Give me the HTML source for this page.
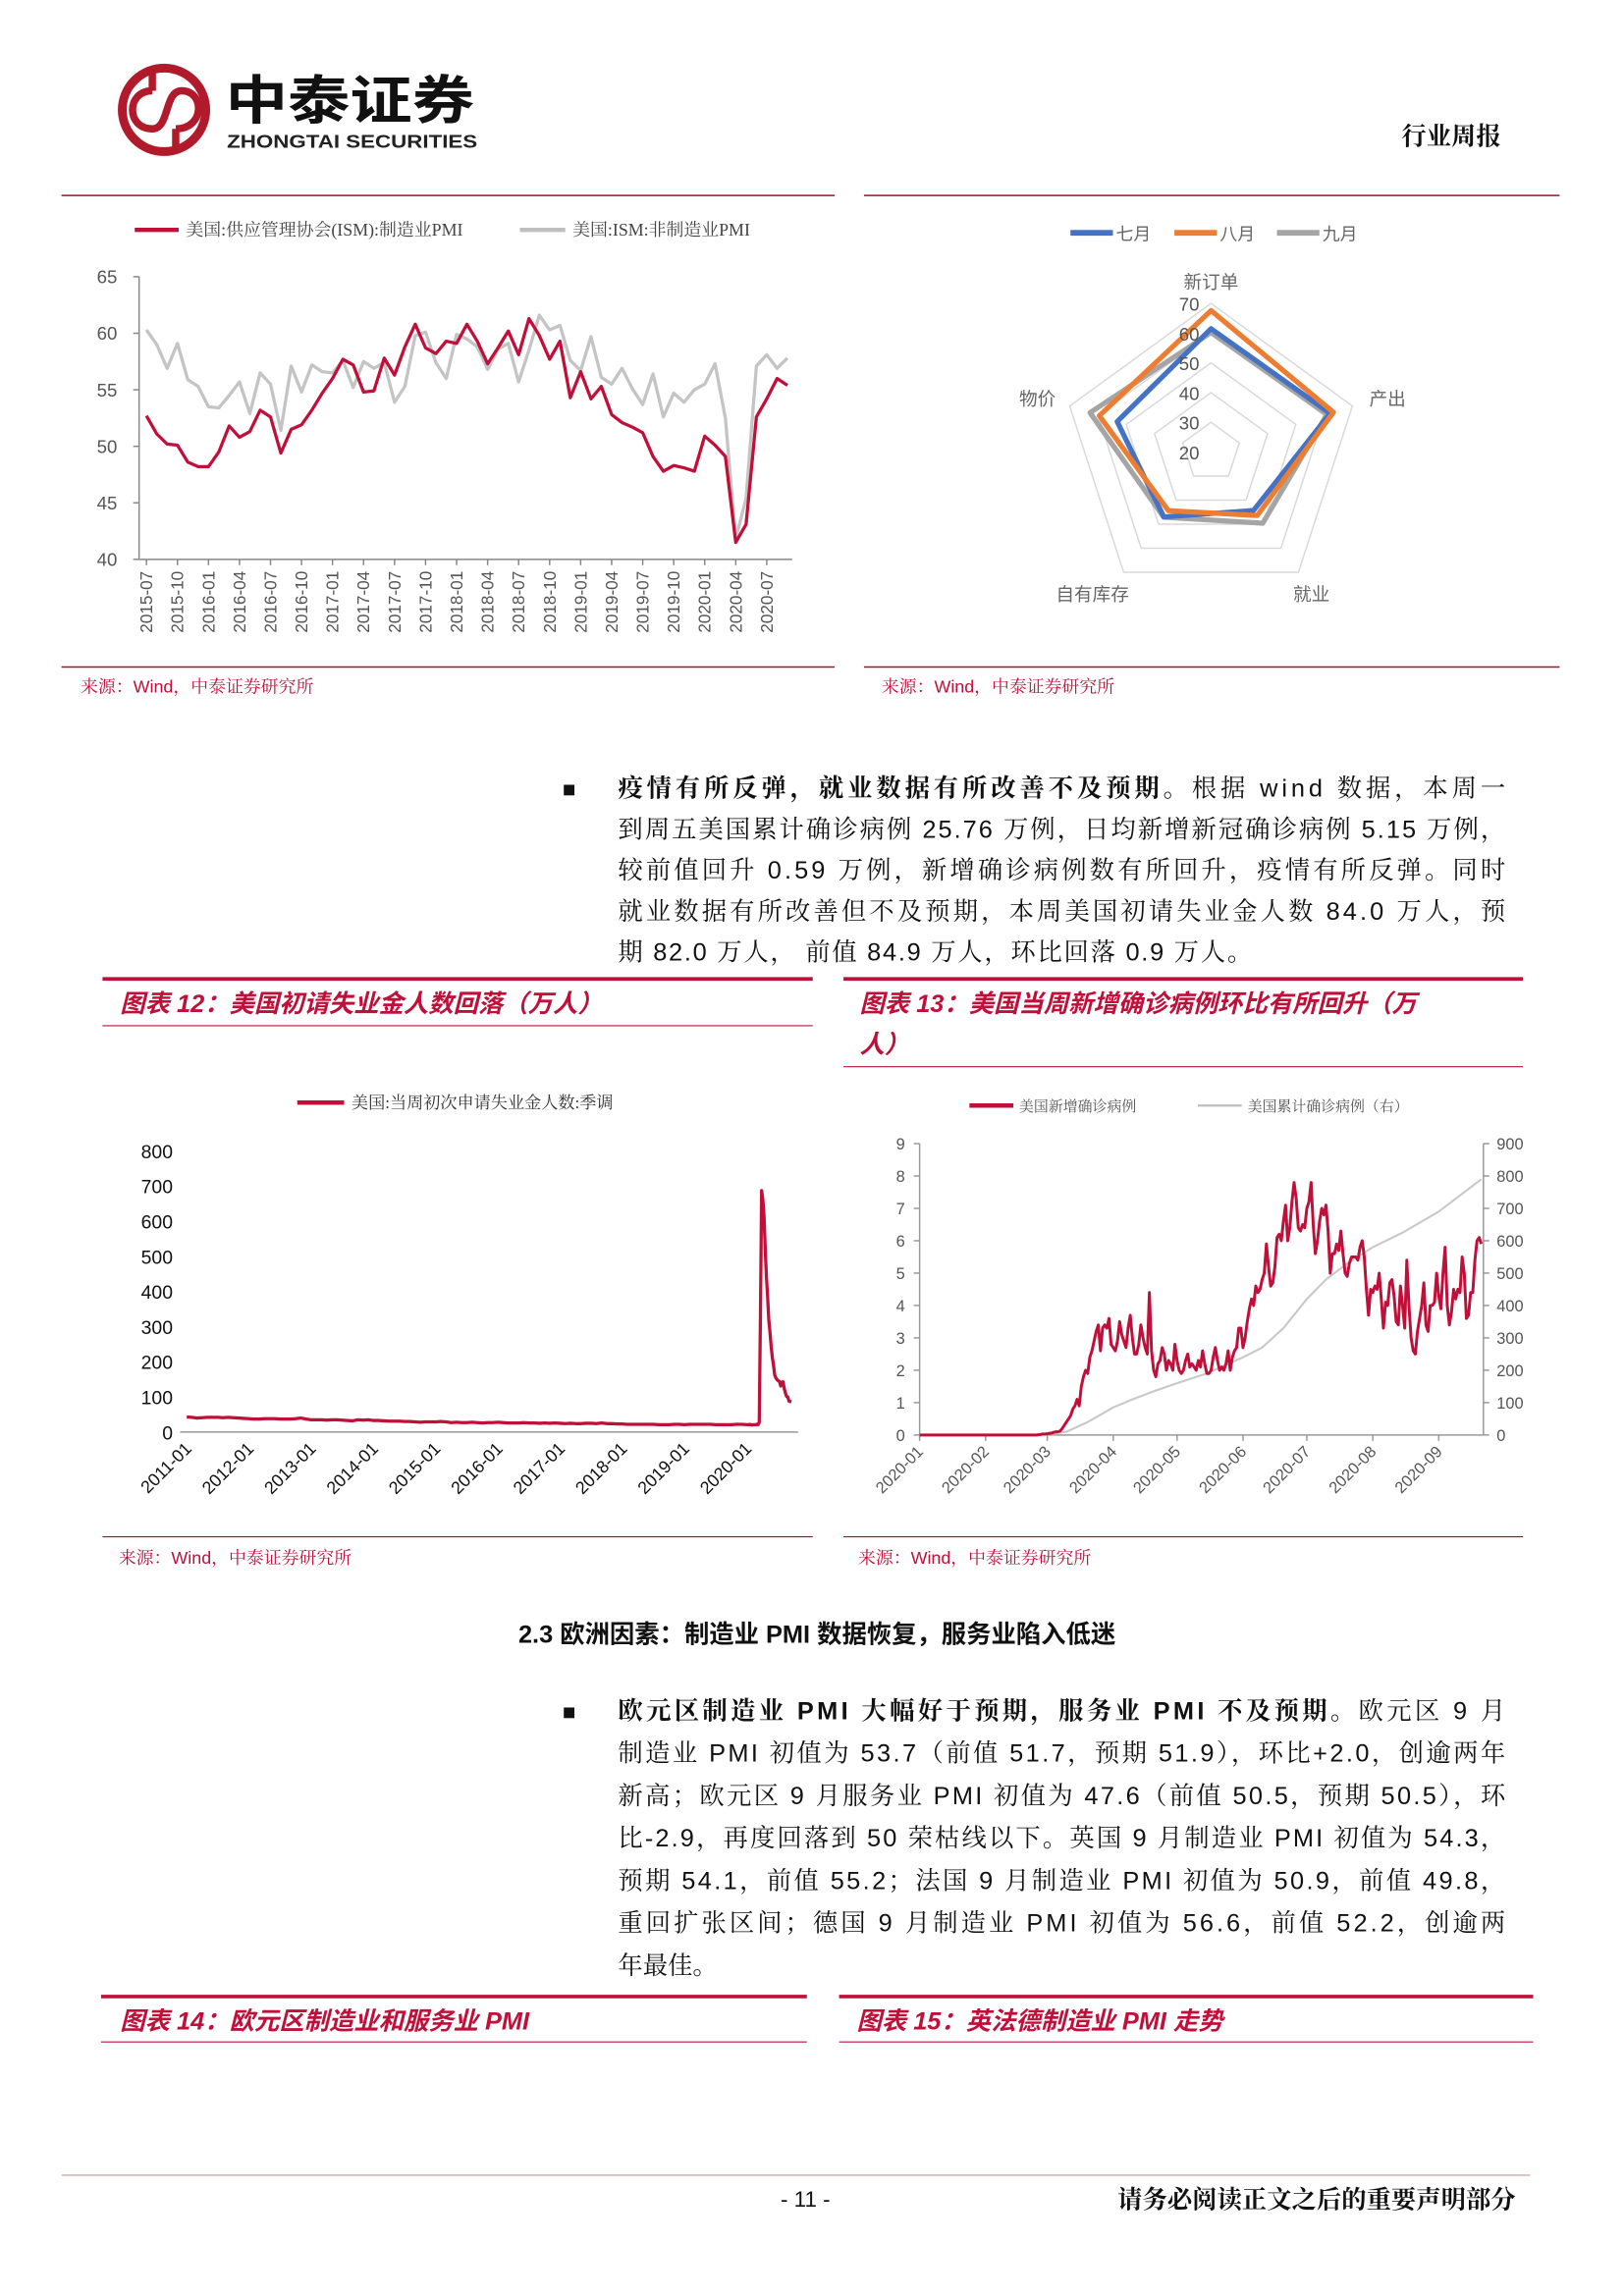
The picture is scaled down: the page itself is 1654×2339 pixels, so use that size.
<!DOCTYPE html>
<html><head><meta charset="utf-8">
<style>
html,body{margin:0;padding:0;background:#fff;}
svg{display:block;}
.sans{font-family:"Liberation Sans","Noto Sans CJK SC",sans-serif;}
.serif{font-family:"Liberation Serif","Noto Serif CJK SC",serif;}
.body{font-family:"Liberation Sans","Noto Serif CJK SC",serif;font-size:17px;fill:#111;}
.ftitle{font-family:"Liberation Sans","Noto Sans CJK SC",sans-serif;font-size:17px;font-weight:bold;font-style:italic;fill:#c0103a;}
.src{font-family:"Liberation Sans","Noto Serif CJK SC",serif;font-size:12px;fill:#c0103a;}
</style></head>
<body>
<svg id="page" width="1654" height="2339" viewBox="0 0 1109 1568" preserveAspectRatio="none" xmlns="http://www.w3.org/2000/svg">
<!-- header -->
<g>
  <circle cx="112" cy="75" r="28.5" fill="none" stroke="#b01a2a" stroke-width="6"/>
  <path d="M104 48 L104 62 M120 88 L120 102 M104 62 C86 62 86 88 104 88 C116 88 112 62 124 62 C140 62 140 88 120 88" fill="none" stroke="#b01a2a" stroke-width="5"/>
  <text x="154" y="81" class="sans" font-size="36" font-weight="bold" fill="#111" textLength="170" lengthAdjust="spacingAndGlyphs">中泰证券</text>
  <text x="155" y="101" class="sans" font-size="12.5" font-weight="bold" fill="#222" textLength="171" lengthAdjust="spacingAndGlyphs">ZHONGTAI SECURITIES</text>
</g>
<text x="1025" y="99" text-anchor="end" class="serif" font-size="17" font-weight="bold" fill="#111">行业周报</text>
<line x1="42" y1="133.5" x2="570" y2="133.5" stroke="#a0102a" stroke-width="1"/>
<line x1="590" y1="133.5" x2="1065" y2="133.5" stroke="#a0102a" stroke-width="1"/>

<!-- chart 1 -->
<g id="c1">
  <line x1="92" y1="157" x2="122" y2="157" stroke="#c0103a" stroke-width="3"/>
  <text x="127" y="161" class="serif" font-size="12" fill="#444">美国:供应管理协会(ISM):制造业PMI</text>
  <line x1="355" y1="157" x2="386" y2="157" stroke="#bfbfbf" stroke-width="3"/>
  <text x="391" y="161" class="serif" font-size="12" fill="#444">美国:ISM:非制造业PMI</text>
</g>
<line x1="42" y1="455.5" x2="570" y2="455.5" stroke="#a0102a" stroke-width="1"/>
<text x="55" y="473" class="src">来源：Wind，中泰证券研究所</text>

<!-- chart 2 radar -->
<g id="c2">
  <line x1="731" y1="159" x2="760" y2="159" stroke="#4472c4" stroke-width="4"/>
  <text x="762" y="164" class="sans" font-size="12" fill="#666">七月</text>
  <line x1="802" y1="159" x2="831" y2="159" stroke="#ed7d31" stroke-width="4"/>
  <text x="833" y="164" class="sans" font-size="12" fill="#666">八月</text>
  <line x1="872" y1="159" x2="901" y2="159" stroke="#a5a5a5" stroke-width="4"/>
  <text x="903" y="164" class="sans" font-size="12" fill="#666">九月</text>
</g>
<line x1="590" y1="455.5" x2="1065" y2="455.5" stroke="#a0102a" stroke-width="1"/>
<text x="602" y="473" class="src">来源：Wind，中泰证券研究所</text>

<!-- bullet 1 -->
<g>
<text x="384" y="544" class="sans" font-size="15" fill="#111">■</text>
<text x="422" y="544" class="body" textLength="606" lengthAdjust="spacing"><tspan font-weight="bold">疫情有所反弹，就业数据有所改善不及预期</tspan>。根据 wind 数据，本周一</text>
<text x="422" y="572" class="body" textLength="606" lengthAdjust="spacing">到周五美国累计确诊病例 25.76 万例，日均新增新冠确诊病例 5.15 万例，</text>
<text x="422" y="600" class="body" textLength="606" lengthAdjust="spacing">较前值回升 0.59 万例，新增确诊病例数有所回升，疫情有所反弹。同时</text>
<text x="422" y="628" class="body" textLength="606" lengthAdjust="spacing">就业数据有所改善但不及预期，本周美国初请失业金人数 84.0 万人，预</text>
<text x="422" y="656" class="body" textLength="433" lengthAdjust="spacing">期 82.0 万人， 前值 84.9 万人，环比回落 0.9 万人。</text>
</g>

<!-- figure titles 12/13 -->
<line x1="70" y1="668.5" x2="555" y2="668.5" stroke="#c0103a" stroke-width="2.5"/>
<text x="82" y="691" class="ftitle">图表 12：美国初请失业金人数回落（万人）</text>
<line x1="70" y1="700.5" x2="555" y2="700.5" stroke="#c0103a" stroke-width="0.8"/>
<line x1="576" y1="668.5" x2="1040" y2="668.5" stroke="#c0103a" stroke-width="2.5"/>
<text x="587" y="691" class="ftitle">图表 13：美国当周新增确诊病例环比有所回升（万</text>
<text x="587" y="719" class="ftitle">人）</text>
<line x1="576" y1="728.5" x2="1040" y2="728.5" stroke="#c0103a" stroke-width="0.8"/>

<g id="c3">
  <line x1="203" y1="753" x2="235" y2="753" stroke="#c0103a" stroke-width="3"/>
  <text x="240" y="757" class="serif" font-size="11.5" fill="#333">美国:当周初次申请失业金人数:季调</text>
</g>
<g id="c4">
  <line x1="662" y1="755" x2="692" y2="755" stroke="#c0103a" stroke-width="3"/>
  <text x="696" y="759" class="serif" font-size="10" fill="#555">美国新增确诊病例</text>
  <line x1="818" y1="755" x2="848" y2="755" stroke="#bfbfbf" stroke-width="1.5"/>
  <text x="852" y="759" class="serif" font-size="10" fill="#555">美国累计确诊病例（右）</text>
</g>
<line x1="70" y1="1049.5" x2="555" y2="1049.5" stroke="#a0102a" stroke-width="0.8"/>
<text x="81" y="1068" class="src">来源：Wind，中泰证券研究所</text>
<line x1="576" y1="1049.5" x2="1040" y2="1049.5" stroke="#a0102a" stroke-width="0.8"/>
<text x="586" y="1068" class="src">来源：Wind，中泰证券研究所</text>

<text x="354" y="1122" class="sans" font-size="17" font-weight="bold" fill="#111">2.3 欧洲因素：制造业 PMI 数据恢复，服务业陷入低迷</text>

<g>
<text x="384" y="1174" class="sans" font-size="15" fill="#111">■</text>
<text x="422" y="1174" class="body" textLength="606" lengthAdjust="spacing"><tspan font-weight="bold">欧元区制造业 PMI 大幅好于预期，服务业 PMI 不及预期</tspan>。欧元区 9 月</text>
<text x="422" y="1203" class="body" textLength="606" lengthAdjust="spacing">制造业 PMI 初值为 53.7（前值 51.7，预期 51.9），环比+2.0，创逾两年</text>
<text x="422" y="1232" class="body" textLength="606" lengthAdjust="spacing">新高；欧元区 9 月服务业 PMI 初值为 47.6（前值 50.5，预期 50.5），环</text>
<text x="422" y="1261" class="body" textLength="606" lengthAdjust="spacing">比-2.9，再度回落到 50 荣枯线以下。英国 9 月制造业 PMI 初值为 54.3，</text>
<text x="422" y="1290" class="body" textLength="606" lengthAdjust="spacing">预期 54.1，前值 55.2；法国 9 月制造业 PMI 初值为 50.9，前值 49.8，</text>
<text x="422" y="1319" class="body" textLength="606" lengthAdjust="spacing">重回扩张区间；德国 9 月制造业 PMI 初值为 56.6，前值 52.2，创逾两</text>
<text x="422" y="1348" class="body">年最佳。</text>
</g>

<line x1="69" y1="1363.5" x2="551" y2="1363.5" stroke="#c0103a" stroke-width="2.5"/>
<text x="82" y="1386" class="ftitle">图表 14：欧元区制造业和服务业 PMI</text>
<line x1="69" y1="1394.5" x2="551" y2="1394.5" stroke="#c0103a" stroke-width="0.8"/>
<line x1="573" y1="1363.5" x2="1047" y2="1363.5" stroke="#c0103a" stroke-width="2.5"/>
<text x="585" y="1386" class="ftitle">图表 15：英法德制造业 PMI 走势</text>
<line x1="573" y1="1394.5" x2="1047" y2="1394.5" stroke="#c0103a" stroke-width="0.8"/>

<line x1="42" y1="1485.5" x2="1045" y2="1485.5" stroke="#d8a8a0" stroke-width="1"/>
<text x="550" y="1507" text-anchor="middle" class="sans" font-size="15" fill="#111">- 11 -</text>
<text x="1035" y="1508" text-anchor="end" class="serif" font-size="17" font-weight="bold" fill="#111">请务必阅读正文之后的重要声明部分</text>
</svg>

<script>
// ===== chart 1 data =====
const pmiStart = "2015-07";
const pmiTickLabels = ["2015-07","2015-10","2016-01","2016-04","2016-07","2016-10","2017-01","2017-04","2017-07","2017-10","2018-01","2018-04","2018-07","2018-10","2019-01","2019-04","2019-07","2019-10","2020-01","2020-04","2020-07"];
const pmiYTicks = [40,45,50,55,60,65];
const pmiManufacturing = [52.7,51.1,50.2,50.1,48.6,48.2,
 48.2,49.5,51.8,50.8,51.3,53.2,52.6,49.4,51.5,51.9,53.2,54.7,
 56.0,57.7,57.2,54.8,54.9,57.8,56.3,58.8,60.8,58.7,58.2,59.3,
 59.1,60.8,59.3,57.3,58.7,60.2,58.1,61.3,59.8,57.7,59.3,54.3,
 56.6,54.2,55.3,52.8,52.1,51.7,51.2,49.1,47.8,48.3,48.1,47.8,
 50.9,50.1,49.1,41.5,43.1,52.6,54.2,56.0,55.4];
const pmiNonManufacturing = [60.3,59.0,56.9,59.1,55.9,55.3,
 53.5,53.4,54.5,55.7,52.9,56.5,55.5,51.4,57.1,54.8,57.2,56.6,
 56.5,57.6,55.2,57.5,56.9,57.4,53.9,55.3,59.8,60.1,57.4,56.0,
 59.9,59.5,58.8,56.8,58.6,59.1,55.7,58.5,61.6,60.3,60.7,57.6,
 56.7,59.7,56.1,55.5,56.9,55.1,53.7,56.4,52.6,54.7,53.9,55.0,
 55.5,57.3,52.5,41.8,45.4,57.1,58.1,56.9,57.8];

// ===== chart 2 data =====
const radarCategories = ["新订单","产出","就业","自有库存","物价"];
const radarJuly = [61.5,62.1,44.3,47.0,53.2];
const radarAugust = [67.6,63.3,46.4,44.4,59.5];
const radarSeptember = [60.2,61.0,49.6,47.1,62.8];
const radarTicks = [20,30,40,50,60,70];

// ===== chart 3 data =====
const claimsMonthlyStart = "2011-01";
const claimsMonthly = [
 43,42,40,41,42,42,42,41,42,41,40,39,
 38,37,37,38,38,38,37,37,37,38,40,37,
 35,35,35,34,35,35,34,33,32,35,34,35,
 33,33,32,31,31,31,30,30,29,28,29,29,
 29,30,29,27,28,27,27,28,27,26,27,27,
 28,27,26,26,26,27,26,26,25,26,25,26,
 25,24,25,24,24,25,25,24,26,24,24,23,
 23,22,22,22,22,22,22,21,21,21,22,22,
 21,22,22,22,22,22,21,21,21,21,22,22];
const claims2020Dates = ["2020-01-04","2020-01-11","2020-01-18","2020-01-25","2020-02-01","2020-02-08","2020-02-15","2020-02-22","2020-02-29","2020-03-07","2020-03-14","2020-03-21","2020-03-28","2020-04-04","2020-04-11","2020-04-18","2020-04-25","2020-05-02","2020-05-09","2020-05-16","2020-05-23","2020-05-30","2020-06-06","2020-06-13","2020-06-20","2020-06-27","2020-07-04","2020-07-11","2020-07-18","2020-07-25","2020-08-01","2020-08-08","2020-08-15","2020-08-22","2020-08-29","2020-09-05","2020-09-12","2020-09-19"];
const claims2020 = [21,21,22,21,20,21,21,21,22,21,28,331,687,662,616,524,444,387,320,285,244,212,190,162,154,149,146,144,131,142,143,124,111,101,100,88,87,86];
const claimsYTicks = [0,100,200,300,400,500,600,700,800];
const claimsXTicks = ["2011-01","2012-01","2013-01","2014-01","2015-01","2016-01","2017-01","2018-01","2019-01","2020-01"];

// ===== chart 4 data =====
const covidStart = "2020-01-01";
const covidDaily = [
 0,0,0,0,0,0,0,0,0,0,0,0,0,0,0,0,0,0,0,0,0,0,0,0,0,0,0,0,0,0,0,
 0,0,0,0,0,0,0,0,0,0,0,0,0,0,0,0,0,0,0,0,0,0,0,0,0,0.01,0.02,0.03,
 0.03,0.04,0.05,0.06,0.08,0.1,0.1,0.12,0.2,0.3,0.4,0.5,0.6,0.8,0.9,1.1,0.9,1.5,1.8,2.0,1.9,2.4,2.6,2.9,3.2,3.4,2.6,3.3,3.4,3.3,3.6,
 2.8,2.7,2.6,2.9,3.5,3.1,2.9,2.7,3.3,3.7,3.0,2.5,2.5,2.8,3.4,3.0,2.7,2.5,4.4,2.6,2.0,1.8,2.2,2.3,2.7,2.5,2.0,2.3,2.2,2.0,
 2.8,2.3,2.0,1.9,2.0,2.3,2.5,2.1,2.2,2.1,2.0,2.3,2.1,2.6,2.2,1.9,1.9,2.0,2.4,2.7,2.3,2.0,2.1,2.0,2.2,2.6,2.0,2.4,2.6,2.7,3.3,
 3.3,2.7,3.0,3.5,3.9,4.2,4.0,4.6,4.4,4.5,4.8,5.0,5.9,5.2,4.6,4.7,5.2,6.1,6.2,6.0,6.6,7.1,6.0,6.4,7.2,7.8,7.3,6.4,6.3,6.5,
 6.4,7.0,7.2,7.8,6.5,5.6,6.0,6.6,7.0,6.8,7.1,6.3,5.0,5.6,5.6,5.9,5.7,6.3,5.6,5.0,4.9,5.3,5.5,5.5,5.5,5.4,5.8,6.0,5.5,4.5,3.7,
 4.5,4.4,4.6,4.5,5.0,4.2,3.3,4.1,4.0,4.7,4.8,4.3,3.5,3.4,4.6,4.0,3.3,5.4,4.0,3.0,2.6,2.5,3.2,3.6,4.0,4.7,3.4,3.2,4.0,4.0,4.1,
 5.0,4.3,3.9,5.0,5.8,4.0,3.4,3.8,4.5,4.2,4.5,4.4,5.5,5.0,3.6,3.7,4.4,4.4,5.4,6.0,6.1,5.9];
const covidCumDates = ["2020-01-01","2020-02-20","2020-03-01","2020-03-10","2020-03-20","2020-04-01","2020-04-10","2020-04-20","2020-05-01","2020-05-15","2020-06-01","2020-06-10","2020-06-20","2020-07-01","2020-07-10","2020-07-20","2020-08-01","2020-08-15","2020-09-01","2020-09-10","2020-09-21"];
const covidCumulative = [0,0,2,10,40,85,110,135,160,190,240,270,330,420,480,530,580,625,690,735,790];
const covidLeftTicks = [0,1,2,3,4,5,6,7,8,9];
const covidRightTicks = [0,100,200,300,400,500,600,700,800,900];
const covidMonthTicks = ["2020-01","2020-02","2020-03","2020-04","2020-05","2020-06","2020-07","2020-08","2020-09"];

const NS = "http://www.w3.org/2000/svg";
function mk(parent, tag, attrs, txt){
  const e = document.createElementNS(NS, tag);
  for (const k in attrs) e.setAttribute(k, attrs[k]);
  if (txt !== undefined) e.textContent = txt;
  parent.appendChild(e);
  return e;
}
function monthIndex(s){ const [y,m]=s.split("-").map(Number); return y*12+(m-1); }
function dayOfYear(s){ const d=new Date(s+"T00:00:00Z"); return (d - Date.UTC(2020,0,1))/86400000; }
function yearFrac(s){ const d=new Date(s+"T00:00:00Z"); const y=d.getUTCFullYear(); return y + (d-Date.UTC(y,0,1))/(Date.UTC(y+1,0,1)-Date.UTC(y,0,1)); }

// ----- chart 1 -----
(function(){
  const g = document.getElementById("c1");
  const X0=100, DX=7.06, YT=189, YB=382, vmin=40, vmax=65;
  const x = i => X0 + i*DX;
  const y = v => YB - (v-vmin)/(vmax-vmin)*(YB-YT);
  const s0 = monthIndex(pmiStart);
  let e = mk(g,"line",{x1:95,y1:YT,x2:95,y2:YB,stroke:"#888","stroke-width":1});
  
  
  e = mk(g,"line",{x1:95,y1:YB,x2:541,y2:YB,stroke:"#888","stroke-width":1});
  
  
  pmiYTicks.forEach(v=>{
    let t = mk(g,"line",{x1:91,y1:y(v),x2:95,y2:y(v),stroke:"#888"});
    
    
    let l = mk(g,"text",{x:80,y:y(v)+4.5,"text-anchor":"end","font-size":12.5,fill:"#555",class:"sans"},String(v));
    
    
  });
  pmiTickLabels.forEach(s=>{
    const xi = x(monthIndex(s)-s0);
    let t = mk(g,"line",{x1:xi,y1:YB,x2:xi,y2:YB+4,stroke:"#888"});
    
    
    let l = mk(g,"text",{x:xi+4,y:YB+8,"text-anchor":"end","font-size":11.5,fill:"#555",class:"sans",transform:`rotate(-90 ${xi+4} ${YB+8})`},s);
    
    
  });
  const p2 = mk(g,"polyline",{points:pmiNonManufacturing.map((v,i)=>x(i)+","+y(v)).join(" "),fill:"none",stroke:"#c4c4c4","stroke-width":2.2,"stroke-linejoin":"round"});
  
  
  const p1 = mk(g,"polyline",{points:pmiManufacturing.map((v,i)=>x(i)+","+y(v)).join(" "),fill:"none",stroke:"#c0103a","stroke-width":2.2,"stroke-linejoin":"round"});
  
  
})();

// ----- chart 2 radar -----
(function(){
  const g = document.getElementById("c2");
  const CX=827, CY=308.7, R=101.5, vmin=20, vmax=70;
  const pt = (i,v) => { const a=-Math.PI/2 + i*2*Math.PI/5; const r=(v-vmin)/(vmax-vmin)*R; return [CX+r*Math.cos(a), CY+r*Math.sin(a)]; };
  radarTicks.forEach(v=>{
    if (v>vmin){
      const ring = mk(g,"polygon",{points:radarCategories.map((c,i)=>pt(i,v).join(",")).join(" "),fill:"none",stroke:"#d9d9d9","stroke-width":1});
      
      
    }
  });
  radarCategories.forEach((c,i)=>{
    const p = pt(i, vmax+7);
    const anchor = i===0?"middle":(i===1||i===2?"start":"end");
    const off = i===1?[-2,4]:(i===4?[4,4]:(i===0?[0,4]:[ (i===2?-12:12), 8]));
    let l = mk(g,"text",{x:p[0]+off[0],y:p[1]+off[1],"text-anchor":anchor,"font-size":12.5,fill:"#666",class:"sans"},c);
    
    
  });
  [[radarSeptember,"#a5a5a5","september"],[radarJuly,"#4472c4","july"],[radarAugust,"#ed7d31","august"]].forEach(s=>{
    const poly = mk(g,"polygon",{points:s[0].map((v,i)=>pt(i,v).join(",")).join(" "),fill:"none",stroke:s[1],"stroke-width":3.5,"stroke-linejoin":"round"});
    
    
  });
  radarTicks.forEach(v=>{
    const p = pt(0,v);
    let l = mk(g,"text",{x:CX-8,y:p[1]+5,"text-anchor":"end","font-size":12.5,fill:"#555",class:"sans"},String(v));
    
    
  });
})();

// ----- chart 3 -----
(function(){
  const g = document.getElementById("c3");
  const YT=786, YB=978, vmax=800;
  const x0=127.5, perYear=42.5;
  const x = yf => x0 + (yf-2011)*perYear;
  const y = v => YB - v/vmax*(YB-YT);
  let ax = mk(g,"line",{x1:123,y1:YB,x2:545,y2:YB,stroke:"#999","stroke-width":1});
  
  
  claimsYTicks.forEach(v=>{
    let l = mk(g,"text",{x:118,y:y(v)+5,"text-anchor":"end","font-size":13,fill:"#111",class:"sans"},String(v));
    
    
  });
  claimsXTicks.forEach(s=>{
    const xi = x(yearFrac(s+"-01"))+4;
    let l = mk(g,"text",{x:xi,y:YB+12,"text-anchor":"end","font-size":12,fill:"#111",class:"sans",transform:`rotate(-45 ${xi} ${YB+12})`},s);
    
    
  });
  const m0 = monthIndex(claimsMonthlyStart);
  const pts = claimsMonthly.map((v,i)=>{ const mi=m0+i; return x(Math.floor(mi/12)+(mi%12)/12)+","+y(v); });
  claims2020.forEach((v,i)=>pts.push(x(yearFrac(claims2020Dates[i]))+","+y(v)));
  const line = mk(g,"polyline",{points:pts.join(" "),fill:"none",stroke:"#c0103a","stroke-width":2.2,"stroke-linejoin":"round"});
  
  
})();

// ----- chart 4 -----
(function(){
  const g = document.getElementById("c4");
  const XL=628, XR=1013, YT=781, YB=980, days=265;
  const x = d => XL + d/days*(XR-XL);
  const yl = v => YB - v/9*(YB-YT);
  const yr = v => YB - v/900*(YB-YT);
  let e = mk(g,"line",{x1:XL,y1:YT,x2:XL,y2:YB,stroke:"#999"});
  
  
  e = mk(g,"line",{x1:XR,y1:YT,x2:XR,y2:YB,stroke:"#999"});
  
  
  e = mk(g,"line",{x1:XL,y1:YB,x2:XR,y2:YB,stroke:"#999"});
  
  
  covidLeftTicks.forEach(v=>{
    let t = mk(g,"line",{x1:XL-4,y1:yl(v),x2:XL,y2:yl(v),stroke:"#999"});
    
    
    let l = mk(g,"text",{x:618,y:yl(v)+4,"text-anchor":"end","font-size":11,fill:"#555",class:"sans"},String(v));
    
    
  });
  covidRightTicks.forEach(v=>{
    let t = mk(g,"line",{x1:XR,y1:yr(v),x2:XR+4,y2:yr(v),stroke:"#999"});
    
    
    let l = mk(g,"text",{x:1022,y:yr(v)+4,"text-anchor":"start","font-size":11,fill:"#555",class:"sans"},String(v));
    
    
  });
  covidMonthTicks.forEach(s=>{
    const xi = x(dayOfYear(s+"-01"));
    let t = mk(g,"line",{x1:xi,y1:YB,x2:xi,y2:YB+4,stroke:"#999"});
    
    
    let l = mk(g,"text",{x:xi+3,y:YB+12,"text-anchor":"end","font-size":11,fill:"#555",class:"sans",transform:`rotate(-45 ${xi+3} ${YB+12})`},s);
    
    
  });
  const cum = mk(g,"polyline",{points:covidCumulative.map((v,i)=>x(dayOfYear(covidCumDates[i]))+","+yr(v)).join(" "),fill:"none",stroke:"#c8c8c8","stroke-width":1.4});
  
  
  const d0 = dayOfYear(covidStart);
  const daily = mk(g,"polyline",{points:covidDaily.map((v,i)=>x(d0+i)+","+yl(v)).join(" "),fill:"none",stroke:"#c0103a","stroke-width":2,"stroke-linejoin":"round"});
  
  
})();
</script>
</body></html>
